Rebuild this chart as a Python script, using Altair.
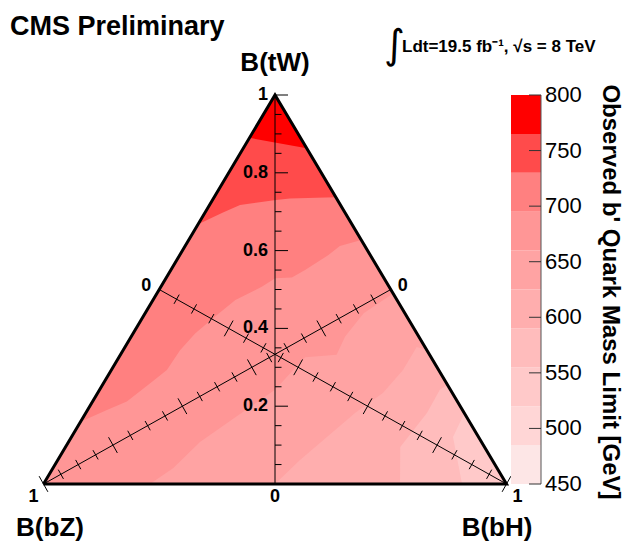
import altair as alt
import pandas as pd

# ---- colour bands of the observed b' mass limit (GeV): lower edge of each band ----
band_lo = [450, 485, 520, 555, 590, 625, 660, 695, 730, 765]
band_step = 35
band_colors = ["#fde6e6", "#ffd6d6", "#ffc9c9", "#ffbcbc", "#ffaeae",
               "#ffa3a3", "#ff9696", "#ff8080", "#ff4b4b", "#ff0000"]
bar_ticks = [450, 500, 550, 600, 650, 700, 750, 800]

# ---- contour boundaries, as (B(bH), B(tW)) points; the region above each line is >= level ----
c765_bH = [0.000, 0.064, 0.097, 0.137]
c765_tW = [0.890, 0.877, 0.871, 0.863]

c730_bH = [0.000, 0.038, 0.066, 0.137, 0.165, 0.222, 0.263]
c730_tW = [0.668, 0.697, 0.717, 0.730, 0.734, 0.736, 0.737]

c695_bH = [0.000, 0.042, 0.074, 0.101, 0.120, 0.123, 0.134, 0.155, 0.178,
           0.218, 0.236, 0.271, 0.290, 0.321, 0.334, 0.373]
c695_tW = [0.160, 0.190, 0.212, 0.259, 0.293, 0.344, 0.387, 0.430, 0.473,
           0.507, 0.529, 0.531, 0.550, 0.589, 0.612, 0.627]

c660_bH = [0.230, 0.260, 0.284, 0.332, 0.379, 0.402, 0.467, 0.462, 0.472, 0.510]
c660_tW = [0.000, 0.041, 0.108, 0.177, 0.242, 0.326, 0.332, 0.379, 0.439, 0.490]

c625_bH = [0.500, 0.523, 0.582, 0.616, 0.630, 0.630, 0.655]
c625_tW = [0.000, 0.062, 0.183, 0.234, 0.293, 0.352, 0.345]

c590_bH = [0.770, 0.723, 0.737, 0.735, 0.745]
c590_tW = [0.000, 0.095, 0.183, 0.242, 0.255]

c555_bH = [0.904, 0.824, 0.818]
c555_tW = [0.000, 0.121, 0.182]

contours = [(555, c555_bH, c555_tW), (590, c590_bH, c590_tW), (625, c625_bH, c625_tW),
            (660, c660_bH, c660_tW), (695, c695_bH, c695_tW), (730, c730_bH, c730_tW),
            (765, c765_bH, c765_tW)]

# pixel geometry of the ternary frame (u: horizontal position, v = B(tW))
X0, W = 43.5, 463.0
Y0, H = 484.0, 389.0
CW, CH = 625, 542
xs = alt.Scale(domain=[-X0 / W, (CW - X0) / W], nice=False, zero=False)
ys = alt.Scale(domain=[(Y0 - CH) / H, Y0 / H], nice=False, zero=False)
cs = alt.Scale(domain=band_lo, range=band_colors)
FONT = "Liberation Sans"
PAD = 0.03  # fills run a little past the frame; the white cover trims them


def region(level, bH, tW):
    u = [b + t / 2 for b, t in zip(bH, tW)]
    v = list(tW)
    lo = -PAD if v[0] == 0 else v[0]
    pts = (list(zip(u, v)) + [(1 + PAD, v[-1]), (1 + PAD, 1 + PAD), (-PAD, 1 + PAD), (-PAD, lo)])
    if v[0] == 0:
        pts.append((u[0], -PAD))
    return pd.DataFrame({"u": [p[0] for p in pts], "v": [p[1] for p in pts],
                         "idx": list(range(len(pts))), "level": level})


def poly_layer(df):
    return alt.Chart(df).mark_line(filled=True, strokeWidth=0, interpolate="linear").encode(
        x=alt.X("u:Q", scale=xs, axis=None),
        y=alt.Y("v:Q", scale=ys, axis=None),
        order=alt.Order("idx:Q"),
        color=alt.Color("level:O", scale=cs, legend=None),
    )


layers = []
# whole triangle in the lowest band present
base = pd.DataFrame({"u": [0.0, 1.0, 0.5], "v": [0.0, 0.0, 1.0], "idx": [0, 1, 2], "level": 520})
layers.append(poly_layer(base))
for lev, bH, tW in contours:
    layers.append(poly_layer(region(lev, bH, tW)))

# white cover outside the frame (above the two upper edges, beside and under the base)
mask = pd.DataFrame({"u": [-0.06, 0.0, 0.5, 1.0, 1.06],
                     "v": [-0.06, 0.0, 1.0, 0.0, -0.06],
                     "v2": [1.06, 1.06, 1.06, 1.06, 1.06]})
layers.append(alt.Chart(mask).mark_area(color="white").encode(
    x=alt.X("u:Q", scale=xs, axis=None), y=alt.Y("v:Q", scale=ys, axis=None), y2="v2:Q"))
under = pd.DataFrame({"u": [-0.06, 1.06], "v": [-0.06, -0.06], "v2": [0.0, 0.0]})
layers.append(alt.Chart(under).mark_area(color="white").encode(
    x=alt.X("u:Q", scale=xs, axis=None), y=alt.Y("v:Q", scale=ys, axis=None), y2="v2:Q"))

# B(tW) axis (vertical median) with ticks every 0.05
tw_vals = [round(0.05 * k, 2) for k in range(1, 21)]
tick_rows = []
for t in tw_vals:
    major = abs(t * 5 - round(t * 5)) < 1e-9
    L = 13.0 if major else 6.5
    tick_rows.append({"u": 0.5, "u2": 0.5 + L / W, "v": t, "v2": t})
# B(bZ) and B(bH) axes (medians from the bottom vertices) with crossing ticks
axis_rows = [{"u": 0.5, "u2": 0.5, "v": 0.0, "v2": 1.0},
             {"u": 0.0, "u2": 0.75, "v": 0.0, "v2": 0.5},
             {"u": 1.0, "u2": 0.25, "v": 0.0, "v2": 0.5}]
dx_pix, dy_pix = 0.75 * W, 0.5 * H
ln = (dx_pix ** 2 + dy_pix ** 2) ** 0.5
px, py = dy_pix / ln, dx_pix / ln  # perpendicular direction in pixels (x right, y down)
for b in tw_vals:
    major = abs(b * 5 - round(b * 5)) < 1e-9
    h = 9.0 if major else 5.3
    # B(bZ) axis point
    u, v = 0.75 * (1 - b), 0.5 * (1 - b)
    tick_rows.append({"u": u - h * px / W, "u2": u + h * px / W,
                      "v": v + h * py / H, "v2": v - h * py / H})
    # B(bH) axis point
    u = 1 - 0.75 * (1 - b)
    tick_rows.append({"u": u - h * px / W, "u2": u + h * px / W,
                      "v": v - h * py / H, "v2": v + h * py / H})

rules = pd.DataFrame(axis_rows + tick_rows)
layers.append(alt.Chart(rules).mark_rule(color="black", strokeWidth=1).encode(
    x=alt.X("u:Q", scale=xs, axis=None), x2="u2:Q",
    y=alt.Y("v:Q", scale=ys, axis=None), y2="v2:Q"))

# triangle frame
frame = pd.DataFrame({"u": [0.0, 0.5, 1.0, 0.0], "v": [0.0, 1.0, 0.0, 0.0], "idx": [0, 1, 2, 3]})
layers.append(alt.Chart(frame).mark_line(color="black", strokeWidth=3, strokeJoin="miter").encode(
    x=alt.X("u:Q", scale=xs, axis=None), y=alt.Y("v:Q", scale=ys, axis=None),
    order="idx:Q"))

# axis labels
tw_labels = pd.DataFrame({"v": [0.2, 0.4, 0.6, 0.8, 1.0], "t": ["0.2", "0.4", "0.6", "0.8", "1"]})
layers.append(alt.Chart(tw_labels).mark_text(
    align="right", baseline="middle", dx=-7, font=FONT, fontWeight="bold", fontSize=18).encode(
    x=alt.value(X0 + 0.5 * W), y=alt.Y("v:Q", scale=ys, axis=None), text="t:N"))

corner_labels = pd.DataFrame({
    "u": [0.0, 0.5, 1.0, 0.25, 0.75],
    "v": [0.0, 0.0, 0.0, 0.5, 0.5],
    "t": ["1", "0", "1", "0", "0"],
    "ox": [-10, 0, 11, -13, 12],
    "oy": [13, 13, 13, -4, -4],
})
for _, r in corner_labels.iterrows():
    layers.append(alt.Chart(pd.DataFrame([r])).mark_text(
        align="center", baseline="middle", dx=int(r.ox), dy=int(r.oy),
        font=FONT, fontWeight="bold", fontSize=18).encode(
        x=alt.X("u:Q", scale=xs, axis=None), y=alt.Y("v:Q", scale=ys, axis=None), text="t:N"))

# colour bar
bar = pd.DataFrame({"lo": band_lo})
layers.append(alt.Chart(bar).transform_calculate(
    v="(datum.lo - 450) / 350", v2="(datum.lo + %d - 450) / 350" % band_step).mark_rect().encode(
    x=alt.value(511), x2=alt.value(541),
    y=alt.Y("v:Q", scale=ys, axis=None), y2="v2:Q",
    color=alt.Color("lo:O", scale=cs, legend=None)))
bt = pd.DataFrame({"m": bar_ticks})
layers.append(alt.Chart(pd.DataFrame({"v": [0.0], "v2": [1.0]})).mark_rule(
    color="#555555", strokeWidth=1).encode(x=alt.value(541), y=alt.Y("v:Q", scale=ys, axis=None), y2="v2:Q"))
layers.append(alt.Chart(bt).transform_calculate(v="(datum.m - 450) / 350").mark_rule(
    color="#333333", strokeWidth=1).encode(
    x=alt.value(529), x2=alt.value(541), y=alt.Y("v:Q", scale=ys, axis=None)))
layers.append(alt.Chart(bt).transform_calculate(v="(datum.m - 450) / 350").mark_text(
    align="left", baseline="middle", font=FONT, fontSize=22).encode(
    x=alt.value(545), y=alt.Y("v:Q", scale=ys, axis=None), text="m:N"))


def label(text, x, y, size, bold=True, align="left", baseline="alphabetic", angle=0, font=FONT):
    kw = dict(align=align, baseline=baseline, font=font, fontSize=size,
              fontWeight="bold" if bold else "normal")
    if angle:
        kw["angle"] = angle
    return alt.Chart(pd.DataFrame({"t": [text]})).mark_text(**kw).encode(
        x=alt.value(x), y=alt.value(y), text="t:N")


layers += [
    label("CMS Preliminary", 10, 35, 27),
    label("B(tW)", 275, 71, 26, align="center"),
    label("B(bZ)", 50, 536, 26, align="center"),
    label("B(bH)", 497, 536, 26, align="center"),
    label("\u222b", 384, 58, 40, bold=False, font="DejaVu Sans"),
    label("Ldt=19.5 fb\u207b\u00b9, \u221as = 8 TeV", 402, 52, 17),
    label("Observed b' Quark Mass Limit [GeV]", 610, 292, 24, align="center",
          baseline="middle", angle=90),
]

chart = alt.layer(*layers).properties(
    width=CW, height=CH, padding=0, autosize="none", background="white"
).configure_view(stroke=None)

chart.save("out.html", embed_options={"renderer": "svg", "actions": False})
